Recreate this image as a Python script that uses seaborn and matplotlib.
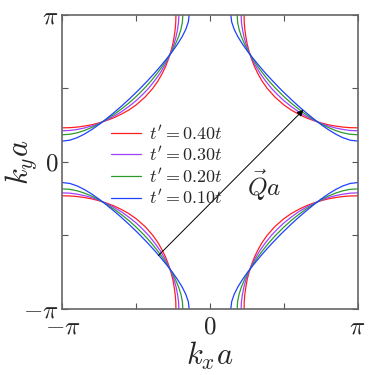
import matplotlib
matplotlib.use("Agg")
import matplotlib.pyplot as plt
import seaborn as sns
import pandas as pd
import numpy as np

# Fermi surface points, in units of pi.
# upper-right pocket, from the top edge (ky = pi) down to the diagonal kx = ky
tprime = [0.40, 0.30, 0.20, 0.10]
colours = ["#ff1f1f", "#a040ff", "#2e9a2e", "#2040ff"]
ky_levels = [1.00, 0.95, 0.90, 0.85, 0.80, 0.75, 0.70, 0.65, 0.60, 0.55, 0.50]
kx_t40 = [0.231, 0.232, 0.236, 0.243, 0.252, 0.265, 0.281, 0.300, 0.324, 0.352, 0.387]
kx_t30 = [0.211, 0.213, 0.220, 0.230, 0.244, 0.262, 0.284, 0.310, 0.340, 0.376, 0.416]
kx_t20 = [0.184, 0.187, 0.197, 0.213, 0.234, 0.259, 0.289, 0.322, 0.359, 0.399, 0.444]
kx_t10 = [0.141, 0.147, 0.164, 0.189, 0.220, 0.255, 0.294, 0.335, 0.378, 0.424, 0.472]
kx_diag = [0.440, 0.457, 0.472, 0.486]

# nesting vector arrow (start point and Q, units of pi)
q_start = [-0.350, -0.637]
q_vec = [0.983, 0.990]

plt.rcParams["mathtext.fontset"] = "cm"
sns.set_style("ticks")
plt.rcParams["font.family"] = ["DejaVu Serif"]

rows = []
for tp, kx_list, d in zip(tprime, [kx_t40, kx_t30, kx_t20, kx_t10], kx_diag):
    # one octant + its mirror across kx = ky gives the quarter pocket
    xs = kx_list + [d] + ky_levels[::-1]
    ys = ky_levels + [d] + kx_list[::-1]
    lab = r"$t' = %.2ft$" % tp
    for q, (sx, sy) in enumerate([(1, 1), (-1, 1), (-1, -1), (1, -1)]):
        for i, (x, y) in enumerate(zip(xs, ys)):
            rows.append({"kx": sx * x, "ky": sy * y, "tp": lab, "quad": q, "order": i})
df = pd.DataFrame(rows)
labels = [r"$t' = %.2ft$" % tp for tp in tprime]

fig = plt.figure(figsize=(3.74, 3.75), dpi=100)
ax = fig.add_axes([0.167, 0.176, 0.789, 0.785])

sns.lineplot(data=df, x="kx", y="ky", hue="tp", hue_order=labels, units="quad",
             estimator=None, sort=False, palette=colours, lw=0.9, ax=ax)

ax.annotate("", xy=(q_start[0] + q_vec[0], q_start[1] + q_vec[1]), xytext=(q_start[0], q_start[1]),
            arrowprops=dict(arrowstyle="-|>", color="black", lw=0.7, mutation_scale=9, shrinkA=0, shrinkB=0))
ax.text(0.37, -0.16, r"$\vec{Q}a$", fontsize=18, ha="center", va="center")

ax.set_xlim(-1, 1)
ax.set_ylim(-1, 1)
ticks = [-1, -0.5, 0, 0.5, 1]
ticklabels = [r"$-\pi$", "", r"$0$", "", r"$\pi$"]
ax.set_xticks(ticks)
ax.set_xticklabels(ticklabels)
ax.set_yticks(ticks)
ax.set_yticklabels(ticklabels)
ax.tick_params(direction="in", length=4, width=0.8, color="#555555", labelsize=18,
               top=True, right=True, pad=3)
ax.tick_params(axis="x", pad=5)
for s in ax.spines.values():
    s.set_color("#666666")
    s.set_linewidth(1.2)
ax.set_xlabel(r"$k_xa$", fontsize=22)
ax.set_ylabel(r"$k_ya$", fontsize=22)
ax.xaxis.set_label_coords(0.5, -0.105)
ax.yaxis.set_label_coords(-0.08, 0.5)

sns.move_legend(ax, "upper left", bbox_to_anchor=(0.11, 0.683), frameon=False, title=None,
                fontsize=13, handlelength=1.65, labelspacing=0.15, handletextpad=0.45)

fig.savefig("out.png", dpi=100)
